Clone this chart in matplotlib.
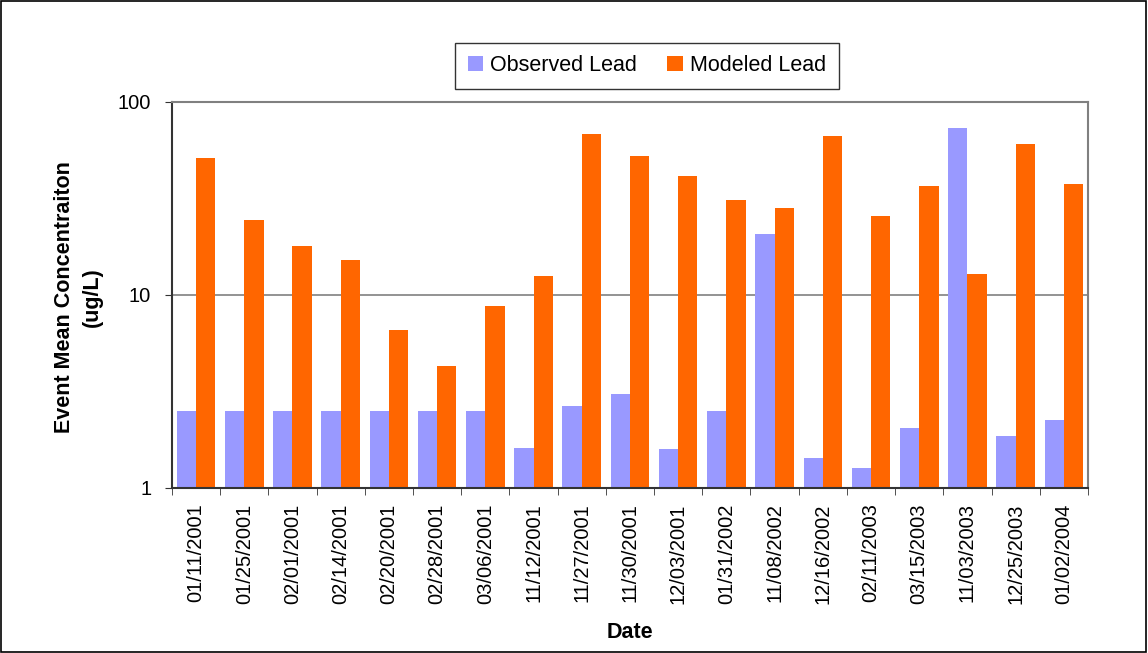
import numpy as np
import matplotlib.pyplot as plt
from matplotlib.patches import Rectangle
from matplotlib.ticker import FixedLocator, NullFormatter

plt.rcParams['font.family'] = ['Liberation Sans', 'DejaVu Sans']

dates = ['01/11/2001', '01/25/2001', '02/01/2001', '02/14/2001', '02/20/2001',
         '02/28/2001', '03/06/2001', '11/12/2001', '11/27/2001', '11/30/2001',
         '12/03/2001', '01/31/2002', '11/08/2002', '12/16/2002', '02/11/2003',
         '03/15/2003', '11/03/2003', '12/25/2003', '01/02/2004']
observed = [2.5, 2.5, 2.5, 2.5, 2.5, 2.5, 2.5, 1.61, 2.66, 3.07,
            1.6, 2.5, 20.7, 1.43, 1.27, 2.05, 73.0, 1.86, 2.25]
modeled = [51.3, 24.5, 17.9, 15.2, 6.6, 4.3, 8.8, 12.5, 68.3, 52.5,
           41.3, 31.1, 28.2, 66.7, 25.7, 36.7, 12.8, 60.6, 37.6]

fig = plt.figure(figsize=(11.48, 6.53), dpi=100)
ax = fig.add_axes([0.1498, 0.2527, 0.7979, 0.5911])

x = np.arange(len(dates))
w = 0.4
ax.bar(x - w / 2, observed, w, color='#9999FF', label='Observed Lead')
ax.bar(x + w / 2, modeled, w, color='#FF6600', label='Modeled Lead')

ax.set_yscale('log')
ax.set_ylim(1, 100)
ax.set_xlim(-0.5, len(dates) - 0.5)
ax.yaxis.set_major_locator(FixedLocator([1, 10, 100]))
ax.yaxis.set_minor_locator(FixedLocator([]))
ax.set_yticklabels(['1', '10', '100'])
ax.axhline(10, color='#808080', lw=1.2, zorder=0)

ax.set_xticks(x)
ax.set_xticklabels(dates, rotation=90)
ax.xaxis.set_minor_locator(FixedLocator(np.arange(-0.5, len(dates), 1)))
ax.xaxis.set_minor_formatter(NullFormatter())
ax.tick_params(axis='x', which='major', length=0, pad=11, labelsize=14.5)
ax.tick_params(axis='x', which='minor', length=5, direction='out', color='#333333')
ax.tick_params(axis='y', length=5, direction='out', pad=10, labelsize=14.5, color='#333333')

for s in ['top', 'right']:
    ax.spines[s].set_color('#808080')
    ax.spines[s].set_linewidth(1.5)
for s in ['left', 'bottom']:
    ax.spines[s].set_color('#333333')
    ax.spines[s].set_linewidth(1.5)

fig.text(78.5 / 1148, 1 - 297 / 653, 'Event Mean Concentraiton\n(ug/L)', rotation=90,
         ha='center', va='center', multialignment='center', linespacing=1.4,
         fontsize=15.5, fontweight='bold')
fig.text(630 / 1148, 1 - 633 / 653, 'Date', ha='center', va='center',
         fontsize=15.5, fontweight='bold')

fig.legend(loc='center', bbox_to_anchor=(0.5636, 0.899), ncol=2, fontsize=15.5,
           frameon=True, fancybox=False, edgecolor='#333333', framealpha=1,
           handlelength=0.7, handleheight=0.7, handletextpad=0.35,
           columnspacing=1.4, borderpad=0.6, borderaxespad=0)

fig.patches.append(Rectangle((0.001, 0.002), 0.997, 0.996, transform=fig.transFigure,
                             fill=False, edgecolor='black', lw=1.2))

fig.savefig('out.png', dpi=100)
